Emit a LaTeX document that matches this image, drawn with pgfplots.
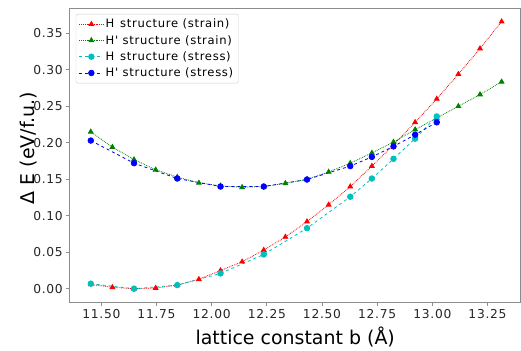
\documentclass[border=0pt]{standalone}
\usepackage{fontspec}
\setmainfont{DejaVu Sans}
\newfontfamily\tickfont[LetterSpace=6]{DejaVu Sans}
\usepackage{pgfplots}
\pgfplotsset{compat=1.18}
\definecolor{mR}{rgb}{1,0,0}
\definecolor{mG}{rgb}{0,0.5,0}
\definecolor{mC}{rgb}{0,0.75,0.75}
\definecolor{mB}{rgb}{0,0,1}
\newcommand{\pr}{{\char"27}}
\begin{document}
\begin{tikzpicture}
\begin{axis}[
  scale only axis,
  width=452pt, height=295pt,
  xmin=11.357, xmax=13.40,
  ymin=-0.0184, ymax=0.3846,
  axis line style={black!45, line width=0.8pt},
  tick align=outside,
  major tick length=3.5pt,
  tick style={black!45, line width=0.8pt},
  xtick={11.5,11.75,12,12.25,12.5,12.75,13,13.25},
  ytick={0,0.05,0.1,0.15,0.2,0.25,0.3,0.35},
  xtick pos=bottom, ytick pos=left,
  /pgf/number format/assume math mode=true,
  xticklabel={\pgfmathprintnumber[fixed,fixed zerofill,precision=2]{\tick}},
  yticklabel={\pgfmathprintnumber[fixed,fixed zerofill,precision=2]{\tick}},
  scaled y ticks=false, scaled x ticks=false,
  ticklabel style={font=\tickfont\fontsize{12.3}{14}\selectfont, text=black!85},
  xlabel={lattice constant b (Å)},
  ylabel={Δ E (eV/f.u.)},
  xlabel style={font=\fontsize{19}{22}\selectfont, at={(axis description cs:0.5,-0.1186)}, anchor=center},
  ylabel style={font=\fontsize{19}{22}\selectfont, at={(axis description cs:-0.0907,0.524)}, anchor=center},
  legend style={at={(axis description cs:0.0133,0.98)}, anchor=north west,
    draw=black!20, rounded corners=2pt, font=\tickfont\fontsize{11.6}{13}\selectfont,
    row sep=2pt, inner sep=3pt},
  legend cell align=left,
  legend image code/.code={\draw[mark repeat=2,mark phase=2] plot coordinates {(0pt,0pt) (12pt,0pt) (24pt,0pt)};},
]
\addplot[mR, densely dotted, line width=0.8pt, mark=triangle*, mark size=2.7pt, mark options={solid}] coordinates {
(11.452,0.006) (11.550,0.002) (11.648,0.000) (11.746,0.001) (11.844,0.005)
(11.942,0.013) (12.040,0.025) (12.138,0.037) (12.236,0.053) (12.334,0.071)
(12.432,0.092) (12.530,0.115) (12.628,0.140) (12.726,0.168) (12.824,0.197)
(12.922,0.228) (13.020,0.260) (13.118,0.294) (13.216,0.329) (13.314,0.366)};
\addlegendentry{H\,\,\,structure (strain)}
\addplot[mG, densely dotted, line width=0.8pt, mark=triangle*, mark size=2.7pt, mark options={solid}] coordinates {
(11.452,0.215) (11.550,0.194) (11.648,0.177) (11.746,0.163) (11.844,0.153)
(11.942,0.145) (12.040,0.141) (12.138,0.139) (12.236,0.140) (12.334,0.1445)
(12.432,0.150) (12.530,0.160) (12.628,0.172) (12.726,0.186) (12.824,0.201)
(12.922,0.218) (13.020,0.234) (13.118,0.250) (13.216,0.266) (13.314,0.2835)};
\addlegendentry{H\pr{} structure (strain)}
\addplot[mC, dashed, line width=0.8pt, mark=*, mark size=2.8pt, mark options={solid}] coordinates {
(11.452,0.007) (11.648,0.000) (11.844,0.005) (12.040,0.021) (12.236,0.047)
(12.432,0.083) (12.628,0.126) (12.726,0.151) (12.824,0.178) (12.922,0.2056)
(13.020,0.236)};
\addlegendentry{H\,\,\,structure (stress)}
\addplot[mB, dashed, line width=0.8pt, mark=*, mark size=2.8pt, mark options={solid}] coordinates {
(11.452,0.203) (11.648,0.172) (11.844,0.151) (12.040,0.140) (12.236,0.140)
(12.432,0.1496) (12.628,0.168) (12.726,0.1806) (12.824,0.195) (12.922,0.211)
(13.020,0.228)};
\addlegendentry{H\pr{} structure (stress)}
\end{axis}
\path[use as bounding box] ([shift={(-70pt,-44pt)}]current axis.south west) rectangle ([shift={(-1pt,8pt)}]current axis.north east);
\end{tikzpicture}
\end{document}
